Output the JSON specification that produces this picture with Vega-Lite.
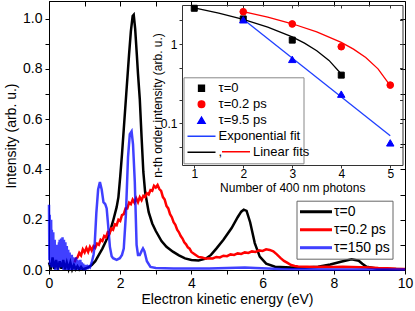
{
  "$schema": "https://vega.github.io/schema/vega-lite/v6.json",
  "width": 356,
  "height": 269,
  "autosize": "none",
  "padding": {"left": 49, "top": 1, "right": 10, "bottom": 41},
  "background": "white",
  "config": {
    "font": "Liberation Sans",
    "view": {"stroke": "black", "strokeWidth": 1},
    "axis": {"labelColor": "black", "titleColor": "black", "tickColor": "black", "domainColor": "black", "titleFontWeight": "normal", "labelFont": "Liberation Sans", "titleFont": "Liberation Sans"},
    "legend": {"labelFont": "Liberation Sans", "labelColor": "black"}
  },
  "datasets": {
    "main": [
      {"s":"τ=0","E":0,"I":0.03},{"s":"τ=0","E":0.05,"I":0.002},{"s":"τ=0","E":0.1,"I":0.05},{"s":"τ=0","E":0.15,"I":0.005},{"s":"τ=0","E":0.2,"I":0.04},{"s":"τ=0","E":0.25,"I":0.002},{"s":"τ=0","E":0.3,"I":0.035},{"s":"τ=0","E":0.35,"I":0.005},{"s":"τ=0","E":0.4,"I":0.04},{"s":"τ=0","E":0.45,"I":0.002},{"s":"τ=0","E":0.5,"I":0.03},{"s":"τ=0","E":0.55,"I":0.004},{"s":"τ=0","E":0.6,"I":0.03},{"s":"τ=0","E":0.65,"I":0.002},{"s":"τ=0","E":0.7,"I":0.02},{"s":"τ=0","E":0.75,"I":0.003},{"s":"τ=0","E":0.8,"I":0.015},{"s":"τ=0","E":0.85,"I":0.002},{"s":"τ=0","E":0.9,"I":0.012},{"s":"τ=0","E":0.95,"I":0.002},{"s":"τ=0","E":1.0,"I":0.005},
      {"s":"τ=0","E":1.1,"I":0.01},{"s":"τ=0","E":1.2,"I":0.02},{"s":"τ=0","E":1.3,"I":0.035},{"s":"τ=0","E":1.4,"I":0.06},{"s":"τ=0","E":1.5,"I":0.085},{"s":"τ=0","E":1.6,"I":0.115},{"s":"τ=0","E":1.7,"I":0.148},{"s":"τ=0","E":1.8,"I":0.195},{"s":"τ=0","E":1.9,"I":0.25},{"s":"τ=0","E":1.95,"I":0.29},{"s":"τ=0","E":2.0,"I":0.37},{"s":"τ=0","E":2.05,"I":0.46},{"s":"τ=0","E":2.1,"I":0.56},{"s":"τ=0","E":2.17,"I":0.7},{"s":"τ=0","E":2.25,"I":0.86},{"s":"τ=0","E":2.3,"I":0.95},{"s":"τ=0","E":2.35,"I":1.01},{"s":"τ=0","E":2.38,"I":1.015},{"s":"τ=0","E":2.42,"I":0.96},{"s":"τ=0","E":2.47,"I":0.85},{"s":"τ=0","E":2.5,"I":0.78},{"s":"τ=0","E":2.55,"I":0.68},{"s":"τ=0","E":2.6,"I":0.53},{"s":"τ=0","E":2.65,"I":0.39},{"s":"τ=0","E":2.7,"I":0.31},{"s":"τ=0","E":2.8,"I":0.23},{"s":"τ=0","E":2.9,"I":0.185},{"s":"τ=0","E":3.0,"I":0.155},{"s":"τ=0","E":3.16,"I":0.115},{"s":"τ=0","E":3.3,"I":0.092},{"s":"τ=0","E":3.48,"I":0.073},{"s":"τ=0","E":3.65,"I":0.058},{"s":"τ=0","E":3.82,"I":0.046},{"s":"τ=0","E":4.0,"I":0.04},{"s":"τ=0","E":4.2,"I":0.038},{"s":"τ=0","E":4.4,"I":0.045},{"s":"τ=0","E":4.55,"I":0.06},{"s":"τ=0","E":4.7,"I":0.085},{"s":"τ=0","E":4.9,"I":0.12},{"s":"τ=0","E":5.13,"I":0.167},{"s":"τ=0","E":5.3,"I":0.21},{"s":"τ=0","E":5.4,"I":0.232},{"s":"τ=0","E":5.47,"I":0.24},{"s":"τ=0","E":5.55,"I":0.235},{"s":"τ=0","E":5.65,"I":0.19},{"s":"τ=0","E":5.78,"I":0.107},{"s":"τ=0","E":5.92,"I":0.053},{"s":"τ=0","E":6.1,"I":0.025},{"s":"τ=0","E":6.35,"I":0.013},{"s":"τ=0","E":6.8,"I":0.01},{"s":"τ=0","E":7.2,"I":0.01},{"s":"τ=0","E":7.56,"I":0.013},{"s":"τ=0","E":7.9,"I":0.022},{"s":"τ=0","E":8.2,"I":0.033},{"s":"τ=0","E":8.5,"I":0.043},{"s":"τ=0","E":8.7,"I":0.037},{"s":"τ=0","E":8.8,"I":0.025},{"s":"τ=0","E":8.92,"I":0.013},{"s":"τ=0","E":9.2,"I":0.006},{"s":"τ=0","E":9.6,"I":0.004},{"s":"τ=0","E":10,"I":0.003},
      {"s":"τ=0.2 ps","E":0.72,"I":0.03},{"s":"τ=0.2 ps","E":0.75,"I":0.045},{"s":"τ=0.2 ps","E":0.8,"I":0.05},{"s":"τ=0.2 ps","E":0.85,"I":0.068},{"s":"τ=0.2 ps","E":0.9,"I":0.058},{"s":"τ=0.2 ps","E":0.95,"I":0.082},{"s":"τ=0.2 ps","E":1.0,"I":0.07},{"s":"τ=0.2 ps","E":1.05,"I":0.088},{"s":"τ=0.2 ps","E":1.1,"I":0.072},{"s":"τ=0.2 ps","E":1.15,"I":0.092},{"s":"τ=0.2 ps","E":1.2,"I":0.078},{"s":"τ=0.2 ps","E":1.25,"I":0.095},{"s":"τ=0.2 ps","E":1.3,"I":0.088},{"s":"τ=0.2 ps","E":1.35,"I":0.105},{"s":"τ=0.2 ps","E":1.4,"I":0.1},{"s":"τ=0.2 ps","E":1.45,"I":0.12},{"s":"τ=0.2 ps","E":1.5,"I":0.115},{"s":"τ=0.2 ps","E":1.55,"I":0.135},{"s":"τ=0.2 ps","E":1.6,"I":0.13},{"s":"τ=0.2 ps","E":1.65,"I":0.15},{"s":"τ=0.2 ps","E":1.7,"I":0.145},{"s":"τ=0.2 ps","E":1.75,"I":0.165},{"s":"τ=0.2 ps","E":1.8,"I":0.16},{"s":"τ=0.2 ps","E":1.85,"I":0.182},{"s":"τ=0.2 ps","E":1.9,"I":0.178},{"s":"τ=0.2 ps","E":1.95,"I":0.2},{"s":"τ=0.2 ps","E":2.0,"I":0.195},{"s":"τ=0.2 ps","E":2.05,"I":0.218},{"s":"τ=0.2 ps","E":2.1,"I":0.222},{"s":"τ=0.2 ps","E":2.15,"I":0.245},{"s":"τ=0.2 ps","E":2.2,"I":0.245},{"s":"τ=0.2 ps","E":2.25,"I":0.268},{"s":"τ=0.2 ps","E":2.3,"I":0.262},{"s":"τ=0.2 ps","E":2.35,"I":0.28},{"s":"τ=0.2 ps","E":2.4,"I":0.268},{"s":"τ=0.2 ps","E":2.45,"I":0.285},{"s":"τ=0.2 ps","E":2.5,"I":0.27},{"s":"τ=0.2 ps","E":2.55,"I":0.29},{"s":"τ=0.2 ps","E":2.6,"I":0.278},{"s":"τ=0.2 ps","E":2.65,"I":0.295},{"s":"τ=0.2 ps","E":2.7,"I":0.29},{"s":"τ=0.2 ps","E":2.75,"I":0.305},{"s":"τ=0.2 ps","E":2.8,"I":0.3},{"s":"τ=0.2 ps","E":2.85,"I":0.318},{"s":"τ=0.2 ps","E":2.9,"I":0.315},{"s":"τ=0.2 ps","E":2.95,"I":0.335},{"s":"τ=0.2 ps","E":3.0,"I":0.328},{"s":"τ=0.2 ps","E":3.05,"I":0.338},{"s":"τ=0.2 ps","E":3.1,"I":0.322},{"s":"τ=0.2 ps","E":3.15,"I":0.315},{"s":"τ=0.2 ps","E":3.2,"I":0.29},{"s":"τ=0.2 ps","E":3.25,"I":0.28},{"s":"τ=0.2 ps","E":3.3,"I":0.255},{"s":"τ=0.2 ps","E":3.35,"I":0.245},{"s":"τ=0.2 ps","E":3.4,"I":0.222},{"s":"τ=0.2 ps","E":3.45,"I":0.21},{"s":"τ=0.2 ps","E":3.5,"I":0.19},{"s":"τ=0.2 ps","E":3.55,"I":0.18},{"s":"τ=0.2 ps","E":3.6,"I":0.16},{"s":"τ=0.2 ps","E":3.65,"I":0.15},{"s":"τ=0.2 ps","E":3.7,"I":0.135},{"s":"τ=0.2 ps","E":3.75,"I":0.125},{"s":"τ=0.2 ps","E":3.8,"I":0.11},{"s":"τ=0.2 ps","E":3.85,"I":0.102},{"s":"τ=0.2 ps","E":3.9,"I":0.09},{"s":"τ=0.2 ps","E":3.95,"I":0.085},{"s":"τ=0.2 ps","E":4.0,"I":0.072},{"s":"τ=0.2 ps","E":4.1,"I":0.062},{"s":"τ=0.2 ps","E":4.2,"I":0.052},{"s":"τ=0.2 ps","E":4.3,"I":0.05},{"s":"τ=0.2 ps","E":4.4,"I":0.045},{"s":"τ=0.2 ps","E":4.5,"I":0.047},{"s":"τ=0.2 ps","E":4.6,"I":0.046},{"s":"τ=0.2 ps","E":4.7,"I":0.052},{"s":"τ=0.2 ps","E":4.8,"I":0.05},{"s":"τ=0.2 ps","E":4.9,"I":0.057},{"s":"τ=0.2 ps","E":5.0,"I":0.055},{"s":"τ=0.2 ps","E":5.1,"I":0.062},{"s":"τ=0.2 ps","E":5.2,"I":0.06},{"s":"τ=0.2 ps","E":5.3,"I":0.066},{"s":"τ=0.2 ps","E":5.4,"I":0.064},{"s":"τ=0.2 ps","E":5.5,"I":0.07},{"s":"τ=0.2 ps","E":5.6,"I":0.068},{"s":"τ=0.2 ps","E":5.7,"I":0.074},{"s":"τ=0.2 ps","E":5.8,"I":0.072},{"s":"τ=0.2 ps","E":5.9,"I":0.078},{"s":"τ=0.2 ps","E":6.0,"I":0.076},{"s":"τ=0.2 ps","E":6.1,"I":0.082},{"s":"τ=0.2 ps","E":6.2,"I":0.08},{"s":"τ=0.2 ps","E":6.3,"I":0.074},{"s":"τ=0.2 ps","E":6.4,"I":0.062},{"s":"τ=0.2 ps","E":6.5,"I":0.048},{"s":"τ=0.2 ps","E":6.6,"I":0.036},{"s":"τ=0.2 ps","E":6.7,"I":0.028},{"s":"τ=0.2 ps","E":6.8,"I":0.02},{"s":"τ=0.2 ps","E":6.9,"I":0.016},{"s":"τ=0.2 ps","E":7.0,"I":0.014},{"s":"τ=0.2 ps","E":7.25,"I":0.013},{"s":"τ=0.2 ps","E":7.5,"I":0.012},{"s":"τ=0.2 ps","E":7.75,"I":0.013},{"s":"τ=0.2 ps","E":8.0,"I":0.012},{"s":"τ=0.2 ps","E":8.25,"I":0.013},{"s":"τ=0.2 ps","E":8.5,"I":0.012},{"s":"τ=0.2 ps","E":8.75,"I":0.011},{"s":"τ=0.2 ps","E":9.0,"I":0.01},{"s":"τ=0.2 ps","E":9.25,"I":0.008},{"s":"τ=0.2 ps","E":9.5,"I":0.007},{"s":"τ=0.2 ps","E":9.75,"I":0.005},{"s":"τ=0.2 ps","E":10.0,"I":0.004},
      {"s":"τ=150 ps","E":0.0,"I":0.26},{"s":"τ=150 ps","E":0.01,"I":0.04},{"s":"τ=150 ps","E":0.02,"I":0.22},{"s":"τ=150 ps","E":0.03,"I":0.02},{"s":"τ=150 ps","E":0.04,"I":0.19},{"s":"τ=150 ps","E":0.05,"I":0.05},{"s":"τ=150 ps","E":0.06,"I":0.2},{"s":"τ=150 ps","E":0.07,"I":0.01},{"s":"τ=150 ps","E":0.08,"I":0.16},{"s":"τ=150 ps","E":0.09,"I":0.03},{"s":"τ=150 ps","E":0.1,"I":0.14},{"s":"τ=150 ps","E":0.11,"I":0.02},{"s":"τ=150 ps","E":0.12,"I":0.15},{"s":"τ=150 ps","E":0.13,"I":0.01},{"s":"τ=150 ps","E":0.14,"I":0.11},{"s":"τ=150 ps","E":0.15,"I":0.03},{"s":"τ=150 ps","E":0.16,"I":0.12},{"s":"τ=150 ps","E":0.17,"I":0.0},{"s":"τ=150 ps","E":0.18,"I":0.09},{"s":"τ=150 ps","E":0.19,"I":0.02},{"s":"τ=150 ps","E":0.2,"I":0.1},{"s":"τ=150 ps","E":0.21,"I":0.01},{"s":"τ=150 ps","E":0.22,"I":0.08},{"s":"τ=150 ps","E":0.23,"I":0.03},{"s":"τ=150 ps","E":0.24,"I":0.1},{"s":"τ=150 ps","E":0.25,"I":0.0},{"s":"τ=150 ps","E":0.26,"I":0.09},{"s":"τ=150 ps","E":0.27,"I":0.02},{"s":"τ=150 ps","E":0.28,"I":0.11},{"s":"τ=150 ps","E":0.29,"I":0.01},{"s":"τ=150 ps","E":0.3,"I":0.12},{"s":"τ=150 ps","E":0.31,"I":0.03},{"s":"τ=150 ps","E":0.32,"I":0.1},{"s":"τ=150 ps","E":0.33,"I":0.02},{"s":"τ=150 ps","E":0.34,"I":0.125},{"s":"τ=150 ps","E":0.35,"I":0.01},{"s":"τ=150 ps","E":0.36,"I":0.12},{"s":"τ=150 ps","E":0.37,"I":0.04},{"s":"τ=150 ps","E":0.38,"I":0.13},{"s":"τ=150 ps","E":0.39,"I":0.02},{"s":"τ=150 ps","E":0.4,"I":0.115},{"s":"τ=150 ps","E":0.41,"I":0.0},{"s":"τ=150 ps","E":0.42,"I":0.12},{"s":"τ=150 ps","E":0.43,"I":0.03},{"s":"τ=150 ps","E":0.44,"I":0.1},{"s":"τ=150 ps","E":0.45,"I":0.01},{"s":"τ=150 ps","E":0.46,"I":0.11},{"s":"τ=150 ps","E":0.47,"I":0.02},{"s":"τ=150 ps","E":0.48,"I":0.09},{"s":"τ=150 ps","E":0.49,"I":0.0},{"s":"τ=150 ps","E":0.5,"I":0.095},{"s":"τ=150 ps","E":0.51,"I":0.02},{"s":"τ=150 ps","E":0.52,"I":0.07},{"s":"τ=150 ps","E":0.53,"I":0.01},{"s":"τ=150 ps","E":0.54,"I":0.08},{"s":"τ=150 ps","E":0.55,"I":0.0},{"s":"τ=150 ps","E":0.56,"I":0.06},{"s":"τ=150 ps","E":0.57,"I":0.02},{"s":"τ=150 ps","E":0.58,"I":0.07},{"s":"τ=150 ps","E":0.59,"I":0.0},{"s":"τ=150 ps","E":0.6,"I":0.055},{"s":"τ=150 ps","E":0.62,"I":0.01},{"s":"τ=150 ps","E":0.64,"I":0.06},{"s":"τ=150 ps","E":0.66,"I":0.0},{"s":"τ=150 ps","E":0.68,"I":0.05},{"s":"τ=150 ps","E":0.7,"I":0.01},{"s":"τ=150 ps","E":0.72,"I":0.045},{"s":"τ=150 ps","E":0.74,"I":0.0},{"s":"τ=150 ps","E":0.76,"I":0.05},{"s":"τ=150 ps","E":0.78,"I":0.01},{"s":"τ=150 ps","E":0.8,"I":0.04},{"s":"τ=150 ps","E":0.82,"I":0.0},{"s":"τ=150 ps","E":0.84,"I":0.035},{"s":"τ=150 ps","E":0.86,"I":0.005},{"s":"τ=150 ps","E":0.88,"I":0.04},{"s":"τ=150 ps","E":0.9,"I":0.0},{"s":"τ=150 ps","E":0.92,"I":0.03},{"s":"τ=150 ps","E":0.94,"I":0.005},{"s":"τ=150 ps","E":0.96,"I":0.025},{"s":"τ=150 ps","E":0.98,"I":0.0},{"s":"τ=150 ps","E":1.0,"I":0.02},{"s":"τ=150 ps","E":1.02,"I":0.0},{"s":"τ=150 ps","E":1.05,"I":0.02},{"s":"τ=150 ps","E":1.08,"I":0.003},{"s":"τ=150 ps","E":1.1,"I":0.015},{"s":"τ=150 ps","E":1.15,"I":0.01},{"s":"τ=150 ps","E":1.2,"I":0.03},{"s":"τ=150 ps","E":1.25,"I":0.06},{"s":"τ=150 ps","E":1.28,"I":0.093},{"s":"τ=150 ps","E":1.33,"I":0.227},{"s":"τ=150 ps","E":1.38,"I":0.32},{"s":"τ=150 ps","E":1.43,"I":0.35},{"s":"τ=150 ps","E":1.48,"I":0.32},{"s":"τ=150 ps","E":1.53,"I":0.27},{"s":"τ=150 ps","E":1.58,"I":0.262},{"s":"τ=150 ps","E":1.62,"I":0.245},{"s":"τ=150 ps","E":1.66,"I":0.18},{"s":"τ=150 ps","E":1.71,"I":0.093},{"s":"τ=150 ps","E":1.76,"I":0.055},{"s":"τ=150 ps","E":1.8,"I":0.047},{"s":"τ=150 ps","E":1.9,"I":0.04},{"s":"τ=150 ps","E":1.99,"I":0.047},{"s":"τ=150 ps","E":2.05,"I":0.06},{"s":"τ=150 ps","E":2.1,"I":0.085},{"s":"τ=150 ps","E":2.16,"I":0.22},{"s":"τ=150 ps","E":2.22,"I":0.45},{"s":"τ=150 ps","E":2.27,"I":0.54},{"s":"τ=150 ps","E":2.32,"I":0.551},{"s":"τ=150 ps","E":2.36,"I":0.5},{"s":"τ=150 ps","E":2.41,"I":0.35},{"s":"τ=150 ps","E":2.46,"I":0.1},{"s":"τ=150 ps","E":2.5,"I":0.06},{"s":"τ=150 ps","E":2.55,"I":0.06},{"s":"τ=150 ps","E":2.6,"I":0.075},{"s":"τ=150 ps","E":2.64,"I":0.086},{"s":"τ=150 ps","E":2.68,"I":0.075},{"s":"τ=150 ps","E":2.75,"I":0.035},{"s":"τ=150 ps","E":2.85,"I":0.012},{"s":"τ=150 ps","E":3.0,"I":0.008},{"s":"τ=150 ps","E":3.5,"I":0.006},{"s":"τ=150 ps","E":4.0,"I":0.006},{"s":"τ=150 ps","E":4.5,"I":0.006},{"s":"τ=150 ps","E":5.0,"I":0.008},{"s":"τ=150 ps","E":5.5,"I":0.01},{"s":"τ=150 ps","E":5.8,"I":0.008},{"s":"τ=150 ps","E":6.5,"I":0.004},{"s":"τ=150 ps","E":7.0,"I":0.003},{"s":"τ=150 ps","E":8.0,"I":0.002},{"s":"τ=150 ps","E":9.0,"I":0.002},{"s":"τ=150 ps","E":10.0,"I":0.002}
    ],
    "pts": [
      {"s":"τ=0","n":1,"v":2.82},{"s":"τ=0","n":2,"v":2.07},{"s":"τ=0","n":3,"v":1.12},{"s":"τ=0","n":4,"v":0.406},
      {"s":"τ=0.2 ps","n":2,"v":2.55},{"s":"τ=0.2 ps","n":3,"v":1.79},{"s":"τ=0.2 ps","n":4,"v":0.925},{"s":"τ=0.2 ps","n":5,"v":0.304},
      {"s":"τ=9.5 ps","n":2,"v":2.02},{"s":"τ=9.5 ps","n":3,"v":0.641},{"s":"τ=9.5 ps","n":4,"v":0.234},{"s":"τ=9.5 ps","n":5,"v":0.057}
    ],
    "fits": [
      {"f":"exp","n":2,"v":2.05},{"f":"exp","n":5,"v":0.07},
      {"f":"lin0","n":1,"v":2.85},{"f":"lin0","n":1.5,"v":2.445},{"f":"lin0","n":2,"v":2.04},{"f":"lin0","n":2.5,"v":1.635},{"f":"lin0","n":3,"v":1.23},{"f":"lin0","n":3.25,"v":1.0275},{"f":"lin0","n":3.5,"v":0.825},{"f":"lin0","n":3.75,"v":0.6225},{"f":"lin0","n":4,"v":0.42},
      {"f":"Linear fits","n":2,"v":2.55},{"f":"Linear fits","n":2.5,"v":2.175},{"f":"Linear fits","n":3,"v":1.8},{"f":"Linear fits","n":3.5,"v":1.425},{"f":"Linear fits","n":4,"v":1.05},{"f":"Linear fits","n":4.25,"v":0.8625},{"f":"Linear fits","n":4.5,"v":0.675},{"f":"Linear fits","n":4.75,"v":0.4875},{"f":"Linear fits","n":5,"v":0.3}
    ]
  },
  "resolve": {
    "scale": {"x": "independent", "y": "independent", "color": "independent", "opacity": "independent", "shape": "independent", "size": "independent", "stroke": "independent"},
    "axis": {"x": "independent", "y": "independent"},
    "legend": {"color": "independent", "opacity": "independent", "shape": "independent", "size": "independent", "stroke": "independent"}
  },
  "layer": [
    {
      "data": {"name": "main"},
      "mark": {"type": "line", "strokeWidth": 2.5},
      "encoding": {
        "x": {"field": "E", "type": "quantitative",
          "scale": {"domain": [0, 10], "nice": false, "zero": false},
          "axis": {"values": [0,1,2,3,4,5,6,7,8,9,10], "labelExpr": "datum.value % 2 === 0 ? datum.label : ''", "labelFontSize": 14, "labelPadding": 2, "tickSize": 4, "labelFlush": false, "labelOverlap": false, "grid": true, "gridColor": "black", "gridOpacity": 1, "gridWidth": 1, "gridDash": [5, 1000], "title": "Electron kinetic energy (eV)", "titleFontSize": 14, "titlePadding": 2}},
        "y": {"field": "I", "type": "quantitative",
          "scale": {"domain": [0, 1.07], "nice": false, "zero": false},
          "axis": {"values": [0,0.1,0.2,0.3,0.4,0.5,0.6,0.7,0.8,0.9,1.0], "labelExpr": "abs(datum.value*5-round(datum.value*5))<0.001 ? format(datum.value,'.1f') : ''", "labelFontSize": 14, "labelPadding": 3, "tickSize": 4, "labelFlush": false, "labelOverlap": false, "grid": true, "gridColor": "black", "gridOpacity": 1, "gridWidth": 1, "gridDash": [0, 351, 5, 1000], "title": "Intensity (arb. u.)", "titleFontSize": 14, "titlePadding": 4}},
        "color": {"field": "s", "type": "nominal",
          "scale": {"domain": ["τ=0", "τ=0.2 ps", "τ=150 ps"], "range": ["#000000", "#ff0000", "#0000ff"]},
          "legend": {"orient": "none", "legendX": 247.5, "legendY": 199.7, "title": null, "direction": "vertical", "symbolType": "stroke", "symbolSize": 1024, "symbolStrokeWidth": 3, "padding": 2, "clipHeight": 18, "rowPadding": 0, "labelFontSize": 14, "labelOffset": 0.5, "labelColor": "black", "strokeColor": "#666666"}},
        "opacity": {"field": "s", "type": "nominal",
          "scale": {"type": "ordinal", "domain": ["τ=0", "τ=0.2 ps", "τ=150 ps"], "range": [1, 1, 0.75]}}
      }
    },
    {
      "data": {"name": "fits"},
      "mark": {"type": "line", "strokeWidth": 1.3},
      "encoding": {
        "x": {"field": "n", "type": "quantitative",
          "scale": {"domain": [0.75, 5.25], "range": [133, 353.5], "nice": false, "zero": false},
          "axis": {"orient": "top", "offset": -4, "values": [1,2,3,4,5], "labels": false, "tickSize": -3, "title": null, "grid": false, "domainColor": "#333333", "tickColor": "#333333"}},
        "y": {"field": "v", "type": "quantitative",
          "scale": {"type": "log", "domain": [0.03, 3.1], "range": [164, 4], "nice": false},
          "axis": {"orient": "right", "offset": -2.5, "values": [0.05,0.1,0.2,0.5,1,2], "labels": false, "tickSize": -3, "title": null, "grid": false, "domainColor": "#333333", "tickColor": "#333333"}},
        "color": {"field": "f", "type": "nominal",
          "scale": {"domain": ["exp", "lin0", "Linear fits"], "range": ["#1f3fff", "#000000", "#ff0000"]},
          "legend": {"orient": "none", "legendX": 172, "legendY": 142.8, "zindex": 1, "title": null, "values": ["Linear fits"], "symbolType": "stroke", "symbolSize": 784, "symbolStrokeWidth": 1.3, "padding": 0, "clipHeight": 15.85, "labelFontSize": 13, "labelOffset": 2, "labelColor": "black"}}
      }
    },
    {
      "data": {"name": "pts"},
      "mark": {"type": "point", "filled": true, "opacity": 1, "strokeWidth": 1},
      "encoding": {
        "x": {"field": "n", "type": "quantitative",
          "scale": {"domain": [0.75, 5.25], "range": [133, 353.5], "nice": false, "zero": false},
          "axis": {"orient": "bottom", "offset": -105, "values": [1,2,3,4,5], "format": "d", "labelFontSize": 12, "tickSize": 3, "labelPadding": 0, "labelFlush": false, "title": "Number of 400 nm photons", "titleFontSize": 12, "titlePadding": 3, "grid": false, "domainColor": "#333333", "tickColor": "#333333"}},
        "y": {"field": "v", "type": "quantitative",
          "scale": {"type": "log", "domain": [0.03, 3.1], "range": [164, 4], "nice": false},
          "axis": {"orient": "left", "offset": -133, "values": [0.05,0.1,0.2,0.5,1,2], "labelExpr": "datum.value == 1 ? '1' : (datum.value == 0.1 ? '0.1' : '')", "labelFontSize": 12, "tickSize": 3, "labelPadding": 2, "labelFlush": false, "labelOverlap": false, "title": "n-th order intensity (arb. u.)", "titleFontSize": 12, "titleX": -25, "titleY": 104, "titleAngle": -90, "titleAlign": "center", "titleBaseline": "middle", "grid": false, "domainColor": "#333333", "tickColor": "#333333"}},
        "color": {"field": "s", "type": "nominal",
          "scale": {"domain": ["τ=0", "τ=0.2 ps", "τ=9.5 ps", "Exponential fit", ", "], "range": ["#000000", "#ff0000", "#0000ff", "#1f3fff", "#000000"]},
          "legend": {"orient": "none", "legendX": 134.5, "legendY": 76.3, "title": null, "direction": "vertical", "padding": 3, "clipHeight": 15.85, "rowPadding": 0, "labelFontSize": 13, "labelOffset": 2, "labelColor": "black", "strokeColor": "#888888", "fillColor": "white", "symbolStrokeWidth": 1.3, "symbolOpacity": 1, "labelLimit": 300}},
        "stroke": {"field": "s", "type": "nominal",
          "scale": {"domain": ["τ=0", "τ=0.2 ps", "τ=9.5 ps", "Exponential fit", ", "], "range": ["#000000", "#ff0000", "#0000ff", "#1f3fff", "#000000"]}},
        "shape": {"field": "s", "type": "nominal",
          "scale": {"domain": ["τ=0", "τ=0.2 ps", "τ=9.5 ps", "Exponential fit", ", "], "range": ["square", "circle", "triangle-up", "stroke", "stroke"]}},
        "size": {"field": "s", "type": "nominal",
          "scale": {"type": "ordinal", "domain": ["τ=0", "τ=0.2 ps", "τ=9.5 ps", "Exponential fit", ", "], "range": [36, 45, 55, 784, 784]}}
      }
    }
  ]
}
